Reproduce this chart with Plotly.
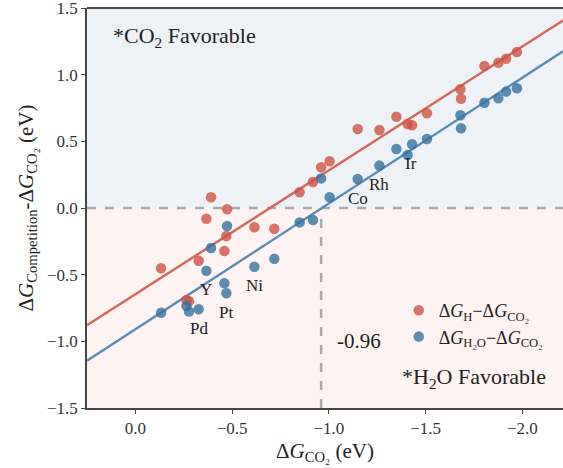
import numpy as np
import plotly.graph_objects as go

# CO2 adsorption energy on each surface (eV)
dg_co2 = [-0.133, -0.264, -0.277, -0.327, -0.367, -0.391, -0.460, -0.470, -0.474,
          -0.615, -0.718, -0.849, -0.918, -0.960, -1.004, -1.149, -1.261, -1.349,
          -1.407, -1.430, -1.507, -1.680, -1.683, -1.804, -1.876, -1.916, -1.972]

# Competition energies: H adsorption minus CO2 adsorption
dg_h_minus_co2 = [-0.452, -0.690, -0.700, -0.395, -0.080, 0.080, -0.323, -0.210, -0.010,
                  -0.145, -0.155, 0.118, 0.195, 0.305, 0.350, 0.593, 0.585, 0.685,
                  0.630, 0.620, 0.710, 0.890, 0.820, 1.065, 1.090, 1.120, 1.170]

# Competition energies: H2O adsorption minus CO2 adsorption
dg_h2o_minus_co2 = [-0.785, -0.735, -0.777, -0.760, -0.470, -0.300, -0.565, -0.640, -0.135,
                    -0.440, -0.380, -0.108, -0.090, 0.222, 0.080, 0.218, 0.318, 0.443,
                    0.398, 0.478, 0.518, 0.695, 0.598, 0.790, 0.823, 0.873, 0.898]

# Labelled metals (name, x, y)
metal_names = ["Pd", "Pt", "Y", "Ni", "Co", "Rh", "Ir"]
metal_x = [-0.329, -0.470, -0.367, -0.615, -1.149, -1.261, -1.425]
metal_y = [-0.902, -0.785, -0.610, -0.583, 0.068, 0.173, 0.335]

x_cross = -0.96
x_range = [0.25, -2.21]
y_range = [-1.5, 1.5]

RED_PT = "rgba(205,82,66,0.8)"
BLUE_PT = "rgba(52,114,160,0.8)"
RED_LN = "#D5685A"
BLUE_LN = "#5A8CB4"
SERIF = "'Liberation Serif', 'Times New Roman', 'DejaVu Serif', serif"

fig = go.Figure()

# Linear fits through each series
xs = np.linspace(x_range[0], x_range[1], 50)
for yv, col in [(dg_h_minus_co2, RED_LN), (dg_h2o_minus_co2, BLUE_LN)]:
    k, b = np.polyfit(dg_co2, yv, 1)
    fig.add_trace(go.Scatter(x=xs, y=k * xs + b, mode="lines",
                             line=dict(color=col, width=2.4),
                             showlegend=False, hoverinfo="skip"))

fig.add_trace(go.Scatter(
    x=dg_co2, y=dg_h_minus_co2, mode="markers",
    marker=dict(color=RED_PT, size=10.5, line=dict(width=0)),
    name="Δ<i>G</i><sub>H</sub>−Δ<i>G</i><sub>CO₂</sub>"))
fig.add_trace(go.Scatter(
    x=dg_co2, y=dg_h2o_minus_co2, mode="markers",
    marker=dict(color=BLUE_PT, size=10.5, line=dict(width=0)),
    name="Δ<i>G</i><sub>H₂O</sub>−Δ<i>G</i><sub>CO₂</sub>"))

# Shaded regions, dashed guides and top spine
shapes = [
    dict(type="rect", xref="paper", yref="y", x0=0, x1=1, y0=0, y1=y_range[1],
         fillcolor="#EEF2F6", line=dict(width=0), layer="below"),
    dict(type="rect", xref="paper", yref="y", x0=0, x1=1, y0=y_range[0], y1=0,
         fillcolor="#FCF3F2", line=dict(width=0), layer="below"),
    dict(type="line", xref="paper", yref="y", x0=0, x1=1, y0=0, y1=0,
         line=dict(color="#AAAAAA", width=2.5, dash="dash"), layer="below"),
    dict(type="line", xref="x", yref="y", x0=x_cross, x1=x_cross, y0=y_range[0], y1=0,
         line=dict(color="#AAAAAA", width=2.5, dash="dash"), layer="below"),
    dict(type="line", xref="paper", yref="paper", x0=0, x1=1, y0=1, y1=1,
         line=dict(color="#111111", width=1.5)),
]

annotations = []
for n, x, y in zip(metal_names, metal_x, metal_y):
    annotations.append(dict(x=x, y=y, text=n, showarrow=False,
                            font=dict(family=SERIF, size=17, color="#222222")))
annotations += [
    dict(x=-1.158, y=-1.0, text="-0.96", showarrow=False,
         font=dict(family=SERIF, size=21, color="#222222")),
    dict(x=0.125, y=1.28, xanchor="left", text="*CO<sub>2</sub> Favorable", showarrow=False,
         font=dict(family=SERIF, size=22, color="#222222")),
    dict(x=-1.752, y=-1.275, text="*H<sub>2</sub>O Favorable", showarrow=False,
         font=dict(family=SERIF, size=22, color="#222222")),
]

axis_common = dict(showgrid=False, zeroline=False, showline=True, linecolor="#444444",
                   linewidth=1.5, ticks="outside", ticklen=4, tickwidth=1.2,
                   tickcolor="#444444", ticklabeloverflow="allow",
                   tickfont=dict(family=SERIF, size=17, color="#333333"))

fig.update_layout(
    width=563, height=468,
    margin=dict(l=87, r=0, t=8, b=60),
    paper_bgcolor="white", plot_bgcolor="white",
    font=dict(family=SERIF),
    shapes=shapes, annotations=annotations,
    xaxis=dict(range=x_range, tickvals=[0, -0.5, -1.0, -1.5, -2.0], tickformat=".1f",
               title=dict(text="Δ<i>G</i><sub>CO₂</sub> (eV)", standoff=6,
                          font=dict(family=SERIF, size=21, color="#222222")),
               **axis_common),
    yaxis=dict(range=y_range, tickvals=[-1.5, -1.0, -0.5, 0, 0.5, 1.0, 1.5], tickformat=".1f",
               title=dict(text="Δ<i>G</i><sub>Competition</sub>-Δ<i>G</i><sub>CO₂</sub> (eV)",
                          standoff=8, font=dict(family=SERIF, size=21, color="#222222")),
               **axis_common),
    legend=dict(x=0.655, y=0.29, xanchor="left", yanchor="top", bgcolor="rgba(0,0,0,0)",
                font=dict(family=SERIF, size=18, color="#222222"), itemwidth=30,
                tracegroupgap=2),
)

fig.write_html("out.html")
